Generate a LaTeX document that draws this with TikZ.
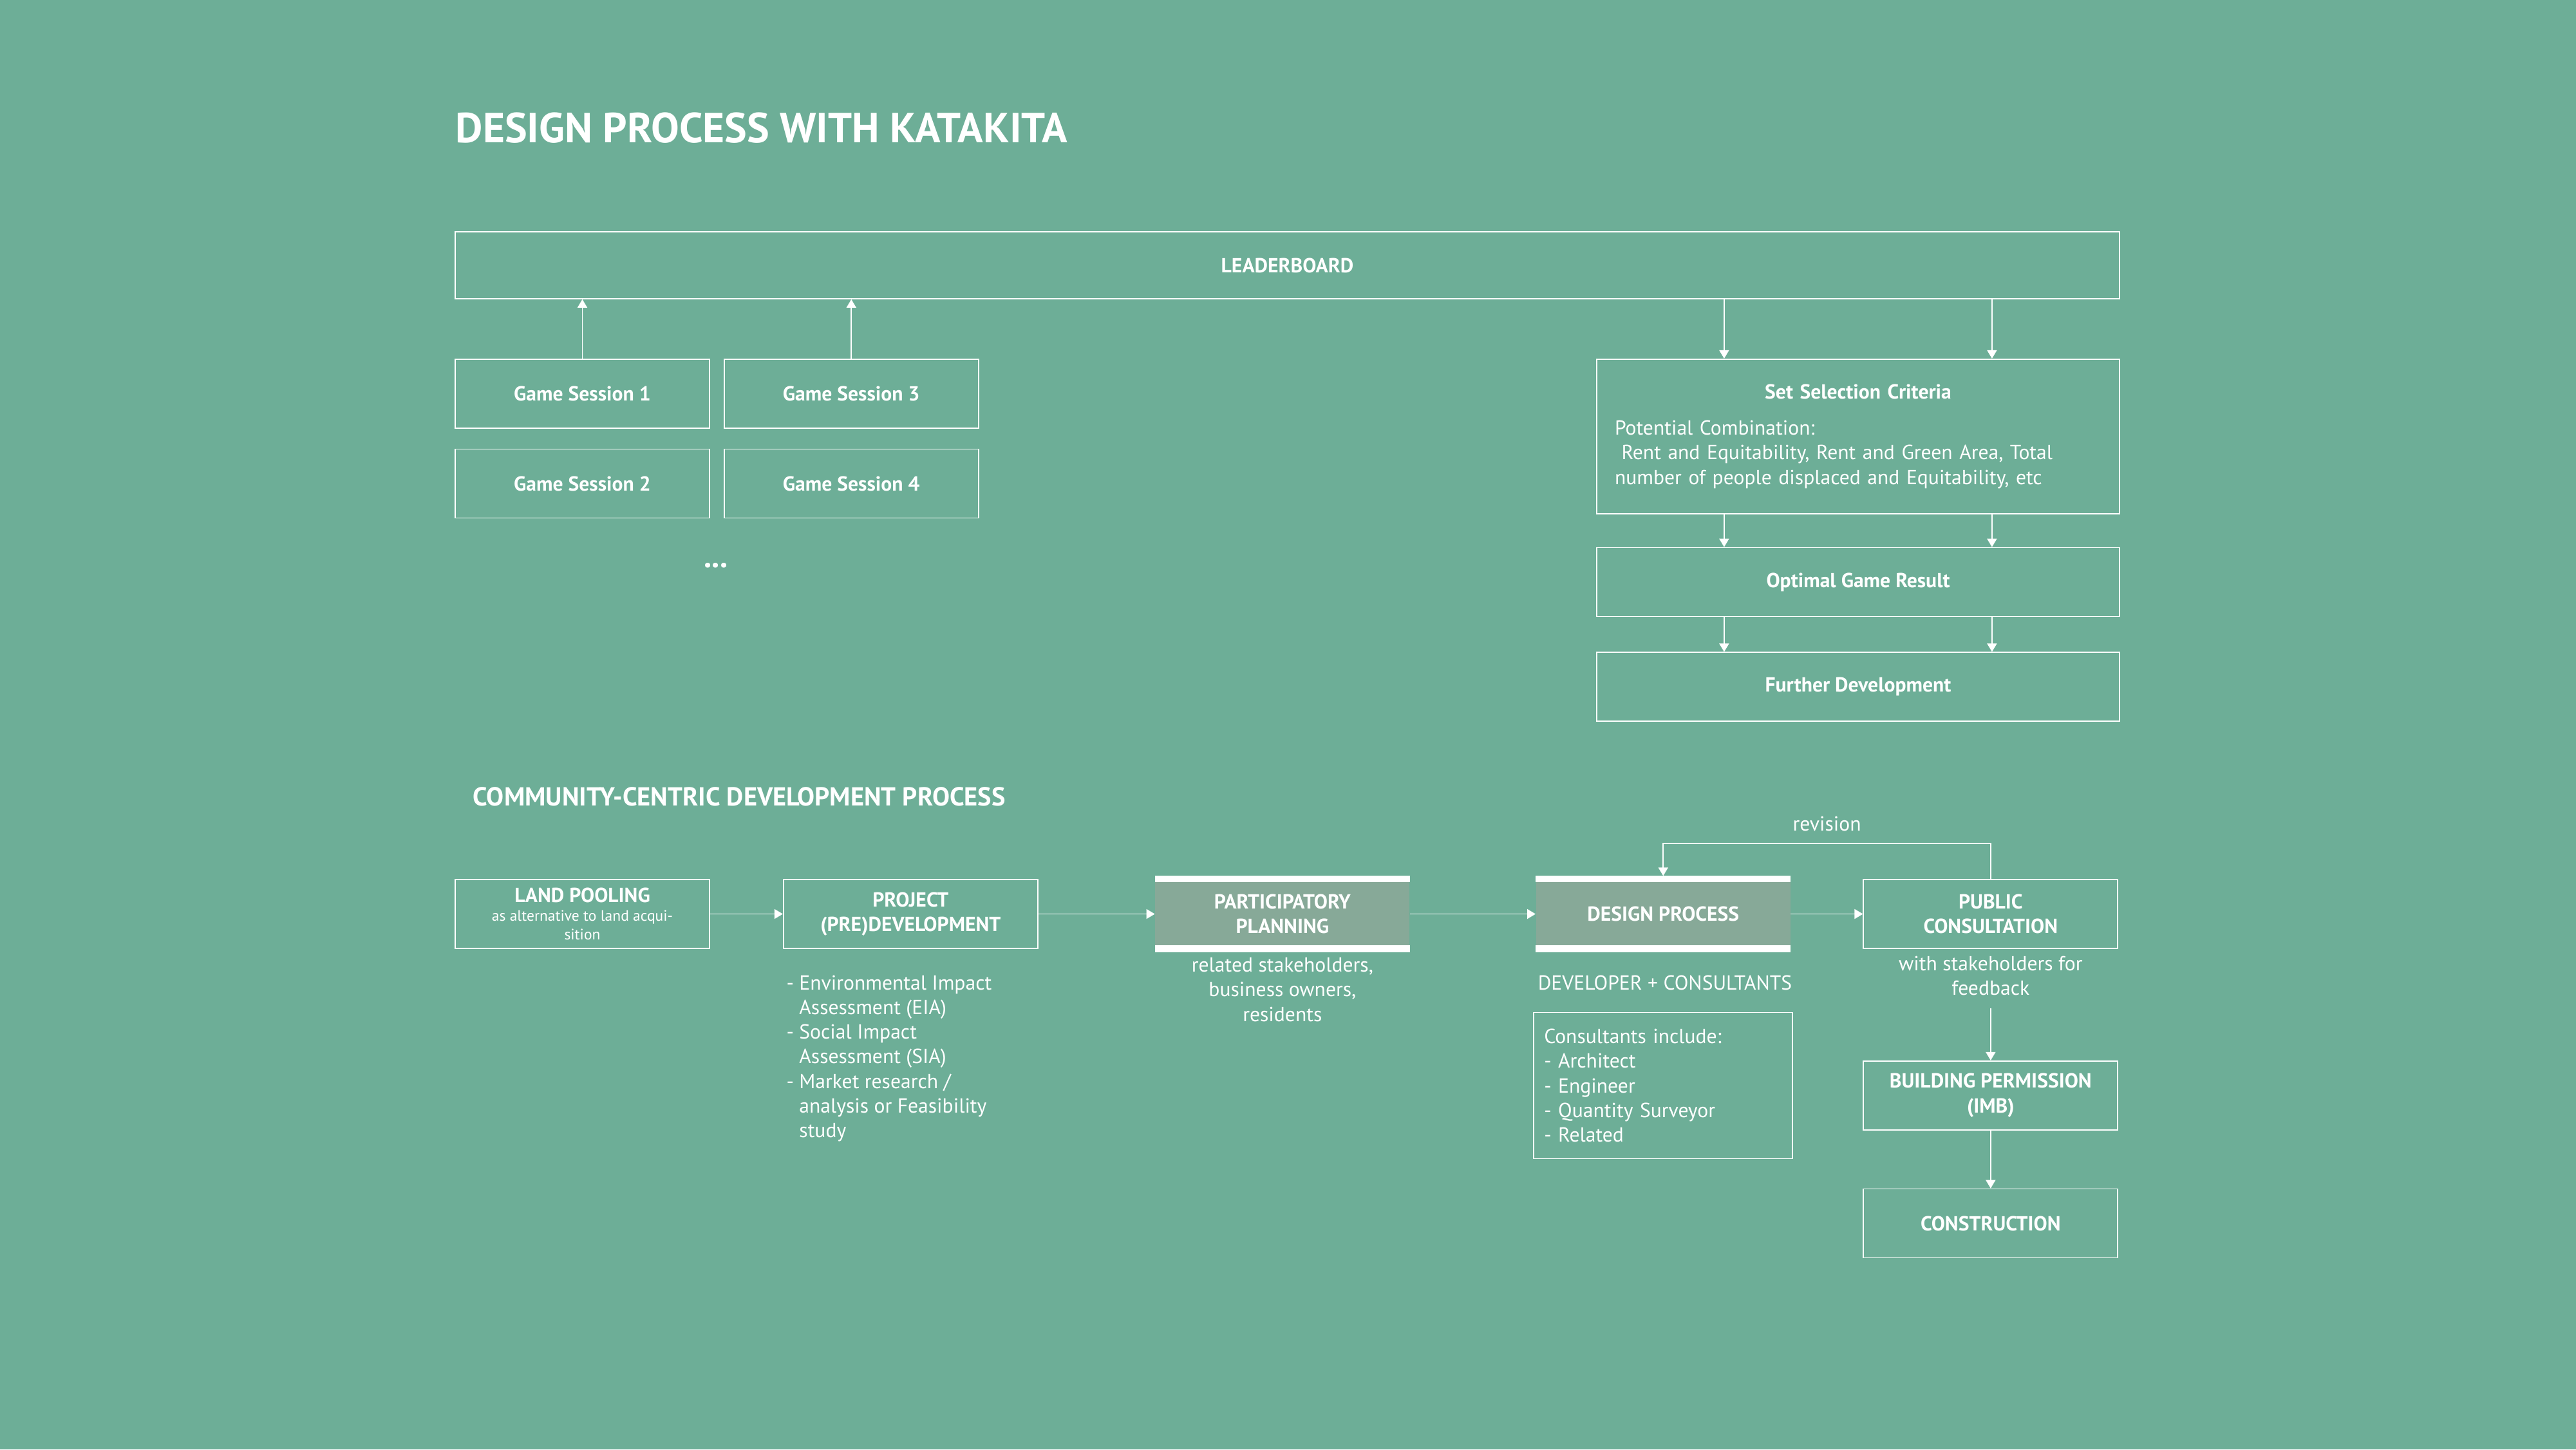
\documentclass[tikz,border=0pt]{standalone}
\usepackage{fontspec}
\setmainfont{PT Sans}
\usepackage{xcolor}
\definecolor{sage}{HTML}{6DAE97}
\definecolor{sagedark}{HTML}{87A998}
\usepackage{tikz}
\usetikzlibrary{positioning,arrows.meta}

\begin{document}
\begin{tikzpicture}[
  node distance=0.3cm and 0.2cm,
  box/.style={draw=white,line width=0.5pt,text=white,align=center,font=\fontsize{9}{10.9}\selectfont\bfseries,
              minimum width=3.95cm,minimum height=1.07cm,inner sep=0pt},
  band/.style={fill=sagedark,text=white,align=center,font=\fontsize{9}{10.9}\selectfont\bfseries,
              minimum width=3.95cm,minimum height=1.17cm,inner sep=0pt},
  note/.style={text=white,align=center,font=\fontsize{9}{10.9}\selectfont,inner sep=0pt},
  head/.style={text=white,anchor=base west,inner sep=0pt},
  arr/.style={-{Triangle[length=1.3mm,width=1.5mm]},draw=white,line width=0.5pt}]
\fill[sage] (0,0) rectangle (40.01,-22.51);
\useasboundingbox (0,0) rectangle (40.01,-22.51);
\node[head,font=\fontsize{18.6}{21}\selectfont\bfseries] (title) at (7.07,-2.21) {DESIGN PROCESS WITH KATAKITA};
% game sessions and leaderboard
\node[box,minimum width=25.85cm,minimum height=1.04cm] (lead) at (19.995,-4.12) {LEADERBOARD};
\node[box,below=0.92cm of lead.south west,anchor=north west] (gs1) {Game Session 1};
\node[box,right=0.21cm of gs1] (gs3) {Game Session 3};
\node[box,below=0.31cm of gs1] (gs2) {Game Session 2};
\node[box,below=0.31cm of gs3] (gs4) {Game Session 4};
\node[text=white,font=\fontsize{14}{14}\selectfont\bfseries] (more) at (11.12,-8.78) {...};
\node[box,below=0.92cm of lead.south east,anchor=north east,minimum width=8.12cm,minimum height=2.40cm,
      text width=7.56cm,align=left,font=\fontsize{9}{10.9}\selectfont] (ssc)
  {{\centering\textbf{Set Selection Criteria}\par}\vspace{5pt}
   Potential Combination:\\\mbox{}\ Rent and Equitability, Rent and Green Area, Total\\number of people displaced and Equitability, etc};
\node[box,below=0.51cm of ssc,minimum width=8.12cm] (ogr) {Optimal Game Result};
\node[box,below=0.54cm of ogr,minimum width=8.12cm] (fd) {Further Development};
\foreach \g in {gs1,gs3} \draw[arr] (\g.north) -- (\g.north |- lead.south);
\foreach \a/\b in {lead/ssc,ssc/ogr,ogr/fd}
  \foreach \dx in {6.15,1.99}
    \draw[arr] ([xshift=-\dx cm]\a.south east) -- ([xshift=-\dx cm]\b.north east);
% development process
\node[head,font=\fontsize{11.5}{13}\selectfont\bfseries] (title2) at (7.34,-12.51) {COMMUNITY-CENTRIC DEVELOPMENT PROCESS};
\node[box,font=\fontsize{6.7}{8.2}\selectfont] (lp) at (9.045,-14.195)
  {{\fontsize{9}{10.9}\selectfont\bfseries LAND POOLING}\\as alternative to land acqui-\\sition};
\node[box,right=1.13cm of lp] (pd) {PROJECT\\(PRE)DEVELOPMENT};
\node[band,right=1.81cm of pd] (pp) {PARTICIPATORY\\PLANNING};
\node[band,right=1.95cm of pp] (dp) {DESIGN PROCESS};
\node[box,right=1.12cm of dp] (pc) {PUBLIC\\CONSULTATION};
\node[box,below=1.73cm of pc] (bp) {BUILDING PERMISSION\\(IMB)};
\node[box,below=0.90cm of bp] (con) {CONSTRUCTION};
\foreach \n in {pp,dp} {
  \fill[white] (\n.north west) rectangle ([yshift=-0.1cm]\n.north east);
  \fill[white] ([yshift=0.11cm]\n.south west) rectangle (\n.south east);
}
\node[note,align=left,below=0.4cm of pd.south west,anchor=north west,xshift=0.05cm] (pdnote)
  {-~Environmental Impact\\\phantom{-~}Assessment (EIA)\\-~Social Impact\\\phantom{-~}Assessment (SIA)\\
   -~Market research /\\\phantom{-~}analysis or Feasibility\\\phantom{-~}study};
\node[note,below=0.08cm of pp] (ppnote) {related stakeholders,\\business owners,\\residents};
\node[note,below=0.36cm of dp.south west,anchor=north west,xshift=0.03cm] (dpnote) {DEVELOPER + CONSULTANTS};
\node[box,font=\fontsize{9}{10.9}\selectfont,align=left,below=0.93cm of dp,minimum width=4.02cm,
      minimum height=2.27cm,text width=3.7cm] (cons)
  {Consultants include:\\- Architect\\- Engineer\\- Quantity Surveyor\\- Related};
\node[note,below=0.1cm of pc] (pcnote) {with stakeholders for\\feedback};
\foreach \a/\b in {lp/pd,pd/pp,pp/dp,dp/pc} \draw[arr] (\a) -- (\b);
\draw[arr] ([yshift=-0.2cm]pcnote.south) -- (bp);
\draw[arr] (bp) -- (con);
\draw[arr] (pc.north) -- ++(0,0.55) -| (dp.north) node[note,pos=0.25,above=0.18cm] (rev) {revision};
\end{tikzpicture}
\end{document}
